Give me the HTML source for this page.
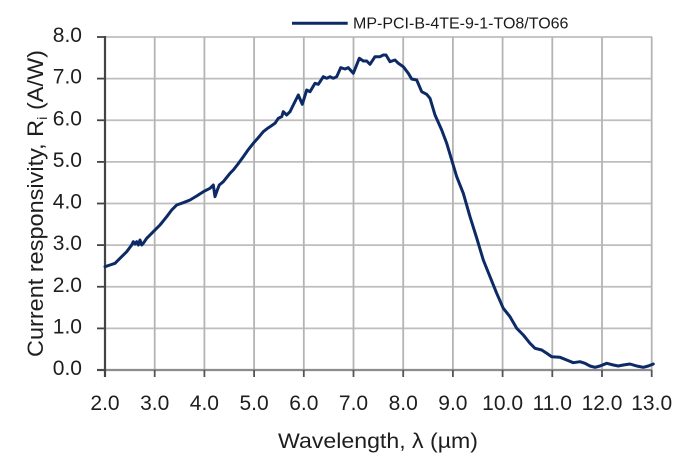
<!DOCTYPE html>
<html>
<head>
<meta charset="utf-8">
<style>
html,body{margin:0;padding:0;background:#fff;}
svg{display:block;}
text{font-family:"Liberation Sans","DejaVu Sans",sans-serif;}
</style>
</head>
<body>
<svg width="698" height="475" viewBox="0 0 698 475" xmlns="http://www.w3.org/2000/svg">
<rect width="698" height="475" fill="#ffffff"/>
<!-- horizontal gridlines -->
<g stroke="#bebebe" stroke-width="1.8">
<line x1="105" y1="328.4" x2="652" y2="328.4"/>
<line x1="105" y1="286.75" x2="652" y2="286.75"/>
<line x1="105" y1="245.1" x2="652" y2="245.1"/>
<line x1="105" y1="203.5" x2="652" y2="203.5"/>
<line x1="105" y1="161.9" x2="652" y2="161.9"/>
<line x1="105" y1="120.25" x2="652" y2="120.25"/>
<line x1="105" y1="78.6" x2="652" y2="78.6"/>
<line x1="105" y1="37" x2="652" y2="37"/>
</g>
<!-- vertical gridlines -->
<g stroke="#b4b4b4" stroke-width="1.8">
<line x1="154.7" y1="37" x2="154.7" y2="370"/>
<line x1="204.4" y1="37" x2="204.4" y2="370"/>
<line x1="254.1" y1="37" x2="254.1" y2="370"/>
<line x1="303.8" y1="37" x2="303.8" y2="370"/>
<line x1="353.5" y1="37" x2="353.5" y2="370"/>
<line x1="403.2" y1="37" x2="403.2" y2="370"/>
<line x1="452.9" y1="37" x2="452.9" y2="370"/>
<line x1="502.6" y1="37" x2="502.6" y2="370"/>
<line x1="552.3" y1="37" x2="552.3" y2="370"/>
<line x1="602" y1="37" x2="602" y2="370"/>
<line x1="651.7" y1="37" x2="651.7" y2="370"/>
</g>
<!-- x axis -->
<line x1="97" y1="370" x2="652" y2="370" stroke="#8c8c8c" stroke-width="2.2"/>
<g stroke="#555" stroke-width="1.8">
<line x1="105" y1="370" x2="105" y2="377"/>
<line x1="154.7" y1="370" x2="154.7" y2="377"/>
<line x1="204.4" y1="370" x2="204.4" y2="377"/>
<line x1="254.1" y1="370" x2="254.1" y2="377"/>
<line x1="303.8" y1="370" x2="303.8" y2="377"/>
<line x1="353.5" y1="370" x2="353.5" y2="377"/>
<line x1="403.2" y1="370" x2="403.2" y2="377"/>
<line x1="452.9" y1="370" x2="452.9" y2="377"/>
<line x1="502.6" y1="370" x2="502.6" y2="377"/>
<line x1="552.3" y1="370" x2="552.3" y2="377"/>
<line x1="602" y1="370" x2="602" y2="377"/>
<line x1="651.7" y1="370" x2="651.7" y2="377"/>
</g>
<!-- y axis -->
<line x1="105" y1="36" x2="105" y2="377" stroke="#444" stroke-width="2.2"/>
<g stroke="#444" stroke-width="1.8">
<line x1="97" y1="370" x2="105" y2="370"/>
<line x1="97" y1="328.4" x2="105" y2="328.4"/>
<line x1="97" y1="286.75" x2="105" y2="286.75"/>
<line x1="97" y1="245.1" x2="105" y2="245.1"/>
<line x1="97" y1="203.5" x2="105" y2="203.5"/>
<line x1="97" y1="161.9" x2="105" y2="161.9"/>
<line x1="97" y1="120.25" x2="105" y2="120.25"/>
<line x1="97" y1="78.6" x2="105" y2="78.6"/>
<line x1="97" y1="37" x2="105" y2="37"/>
</g>
<!-- y tick labels -->
<g font-size="21" fill="#1e1e1e" text-anchor="end">
<text x="82" y="375">0.0</text>
<text x="82" y="333.4">1.0</text>
<text x="82" y="291.8">2.0</text>
<text x="82" y="250.1">3.0</text>
<text x="82" y="208.5">4.0</text>
<text x="82" y="166.9">5.0</text>
<text x="82" y="125.3">6.0</text>
<text x="82" y="83.6">7.0</text>
<text x="82" y="42">8.0</text>
</g>
<!-- x tick labels -->
<g font-size="21" fill="#1e1e1e" text-anchor="middle">
<text x="105" y="410">2.0</text>
<text x="154.7" y="410">3.0</text>
<text x="204.4" y="410">4.0</text>
<text x="254.1" y="410">5.0</text>
<text x="303.8" y="410">6.0</text>
<text x="353.5" y="410">7.0</text>
<text x="403.2" y="410">8.0</text>
<text x="452.9" y="410">9.0</text>
<text x="502.6" y="410">10.0</text>
<text x="552.3" y="410">11.0</text>
<text x="602" y="410">12.0</text>
<text x="651.7" y="410">13.0</text>
</g>
<!-- axis titles -->
<text x="278" y="448" font-size="21" fill="#1e1e1e" textLength="200" lengthAdjust="spacingAndGlyphs">Wavelength, λ (µm)</text>
<text transform="translate(43,357) rotate(-90)" x="0" y="0" font-size="22" fill="#1e1e1e" textLength="307" lengthAdjust="spacingAndGlyphs">Current responsivity, R<tspan font-size="14" dy="4">i</tspan><tspan dy="-4"> (A/W)</tspan></text>
<!-- legend -->
<line x1="292" y1="23.3" x2="347.7" y2="23.3" stroke="#0c2a66" stroke-width="3"/>
<text x="353" y="28.5" font-size="16" fill="#1a1a1a">MP-PCI-B-4TE-9-1-TO8/TO66</text>
<!-- data -->
<polyline fill="none" stroke="#0c2a66" stroke-width="3" stroke-linejoin="round" stroke-linecap="round"
points="105,266.7 110,265 115,263.3 120,258.3 126.7,251.7 131.7,245 133.3,241.7 135,244 136.7,241.7 138.3,245 140,240 141.7,245 143.3,243.3 146.7,238.3 153.3,231.7 160,225 166.7,216.7 171.7,210 175,206.7 176.7,205 183.3,202.7 190,200 196.7,196 203.3,191.7 210,188.3 213.3,185 215,196.7 217.3,190 219.3,185 223.3,181.7 230,173.3 233.3,170 238,164 243.3,156.7 248,150 253.3,143.3 258,138 263.3,131.7 268,128 270,126.7 275,123.3 278.3,118.3 281.7,116.7 283.3,111.7 286.7,115 290,111.7 293.3,105 298.3,95 302.3,104.3 306.7,90 310,91.7 315,83.3 318.3,84.3 323.3,76.7 326.7,78.3 330,76.7 333.3,78.3 336.7,76.7 340.7,67.7 345,69 348.3,67.7 353.3,73.3 359.3,58.3 363.3,61 366.7,61 370,64.3 375,56.7 380,56.7 383.3,55 386,55 390,61.7 395,60 398.3,63.3 403.3,66.7 408.3,73.3 411.7,79 416.7,80 421.7,91.7 426.7,94.3 430,98.3 435,115 441.7,130 446.7,143.3 451.7,160 456.7,176.7 463.3,193.3 470,216.7 476.7,238 483.3,260 490,276.7 496.7,293.3 503.3,308.3 510,316.7 516.7,328.3 523.3,335 530,343.3 535,348.3 541.7,350 546.7,353.3 551.7,356.7 560,357.3 566.7,360 573.3,362.7 580,361.7 585,363.3 590,366 595,367.3 600,366 606.7,363.3 613.3,365 618.3,366 623.3,365 630,364 636.7,366 643.3,367.3 648.3,366 653.3,364"/>
</svg>
</body>
</html>
